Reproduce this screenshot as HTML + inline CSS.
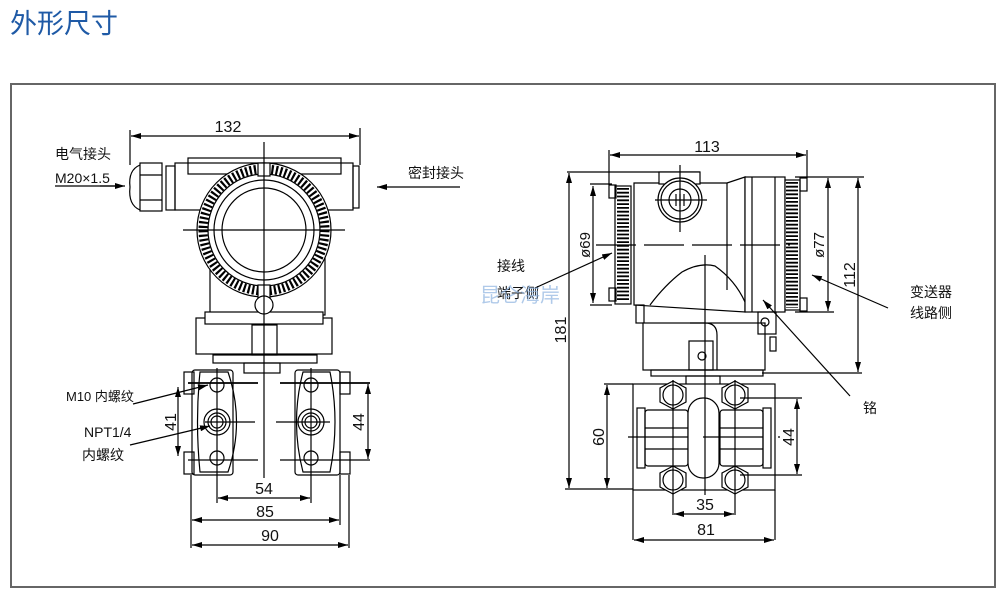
<!DOCTYPE html>
<html><head><meta charset="utf-8"><style>
html,body{margin:0;padding:0;background:#fff;width:1002px;height:593px;overflow:hidden}
svg{display:block}
text{font-family:"Liberation Sans","Noto Sans CJK SC",sans-serif;fill:#111}
</style></head><body>
<svg width="1002" height="593" viewBox="0 0 1002 593" xmlns="http://www.w3.org/2000/svg">
<defs>
<marker id="a" viewBox="0 0 10 6" refX="10" refY="3" markerWidth="10" markerHeight="6" orient="auto-start-reverse" markerUnits="userSpaceOnUse"><path d="M0,0 L10,3 L0,6z" fill="#000"/></marker>
</defs>
<text x="10" y="33" font-size="27" style="fill:#1f5aa6">外形尺寸</text>
<rect x="11" y="84" width="984" height="503" fill="none" stroke="#666" stroke-width="2"/>

<g stroke="#000" fill="none" stroke-width="1.2">
<!-- LEFT VIEW -->
<line x1="130" y1="130" x2="130" y2="165"/><line x1="360" y1="128" x2="360" y2="165"/>
<line x1="131" y1="136" x2="359" y2="136" marker-start="url(#a)" marker-end="url(#a)"/>
<rect x="188" y="158" width="153" height="16" fill="#fff"/>
<rect x="175" y="163" width="178" height="47"/>
<rect x="353" y="166" width="6" height="42"/>
<rect x="166" y="166" width="9" height="44"/>
<rect x="140" y="163" width="22" height="48"/>
<path d="M140,165 Q128,170 130,187 Q128,205 140,210"/>
<line x1="140" y1="175" x2="162" y2="175"/><line x1="140" y1="200" x2="162" y2="200"/>
<rect x="210" y="255" width="115" height="60" fill="#fff"/>
<rect x="196" y="318" width="136" height="36" fill="#fff"/>
<rect x="205" y="312" width="118" height="12" fill="#fff"/>
<rect x="252" y="325" width="25" height="30"/>
<rect x="213" y="355" width="104" height="8"/>
<rect x="244" y="363" width="36" height="10"/>
<circle cx="264" cy="230" r="67" fill="#fff"/>
<circle cx="264" cy="230" r="61" stroke-width="9" stroke-dasharray="2.2 2.2"/>
<circle cx="264" cy="230" r="56"/>
<circle cx="264" cy="230" r="50"/>
<circle cx="264" cy="230" r="42"/>
<rect x="258" y="163" width="12" height="13" fill="#fff"/>
<rect x="258" y="285" width="12" height="14" fill="#fff"/>
<circle cx="264" cy="305" r="9" fill="#fff"/>
<rect x="192" y="370" width="41" height="105" rx="3" fill="#fff"/>
<rect x="295" y="370" width="45" height="105" rx="3" fill="#fff"/>
<path d="M200,372 Q195,422 200,472 L228,472 Q245,422 228,372z"/>
<path d="M303,372 Q290,422 303,472 L330,472 Q340,422 330,372z"/>
<rect x="184" y="372" width="10" height="22"/><rect x="184" y="452" width="10" height="22"/>
<rect x="340" y="372" width="10" height="22"/><rect x="340" y="452" width="10" height="22"/>
<circle cx="217" cy="385" r="7"/><circle cx="217" cy="458" r="7"/>
<circle cx="311" cy="385" r="7"/><circle cx="311" cy="458" r="7"/>
<circle cx="217" cy="422" r="13"/><circle cx="217" cy="422" r="9"/><circle cx="217" cy="422" r="6"/>
<circle cx="311" cy="422" r="13"/><circle cx="311" cy="422" r="9"/><circle cx="311" cy="422" r="6"/>
<line x1="188" y1="383" x2="258" y2="383" stroke-width="1.8"/><line x1="280" y1="383" x2="370" y2="383" stroke-width="1.8"/>
<line x1="188" y1="460" x2="258" y2="460"/><line x1="280" y1="460" x2="370" y2="460"/>
<line x1="264" y1="142" x2="264" y2="478"/>
<line x1="183" y1="230" x2="345" y2="230"/>
<line x1="205" y1="422" x2="255" y2="422"/><line x1="276" y1="422" x2="330" y2="422"/>
<line x1="217" y1="368" x2="217" y2="503"/><line x1="311" y1="368" x2="311" y2="503"/>
<line x1="191" y1="475" x2="191" y2="548"/><line x1="340" y1="475" x2="340" y2="525"/><line x1="349" y1="475" x2="349" y2="548"/>
<line x1="218" y1="498" x2="310" y2="498" marker-start="url(#a)" marker-end="url(#a)"/>
<line x1="192" y1="520" x2="339" y2="520" marker-start="url(#a)" marker-end="url(#a)"/>
<line x1="192" y1="545" x2="348" y2="545" marker-start="url(#a)" marker-end="url(#a)"/>
<line x1="178" y1="387" x2="178" y2="456" marker-start="url(#a)" marker-end="url(#a)"/>
<line x1="368" y1="384" x2="368" y2="459" marker-start="url(#a)" marker-end="url(#a)"/>
<line x1="55" y1="186" x2="122" y2="186"/>
<line x1="100" y1="186" x2="125" y2="186" marker-end="url(#a)"/>
<line x1="460" y1="187" x2="377" y2="187" marker-end="url(#a)"/>
<line x1="133" y1="404" x2="208" y2="385" marker-end="url(#a)"/>
<line x1="130" y1="445" x2="210" y2="426" marker-end="url(#a)"/>

<!-- RIGHT VIEW -->
<line x1="609" y1="150" x2="609" y2="185"/><line x1="807" y1="150" x2="807" y2="178"/>
<line x1="610" y1="155" x2="806" y2="155" marker-start="url(#a)" marker-end="url(#a)"/>
<line x1="567" y1="172" x2="700" y2="172"/>
<line x1="569" y1="173" x2="569" y2="488" marker-start="url(#a)" marker-end="url(#a)"/>
<line x1="565" y1="489" x2="633" y2="489"/>
<line x1="590" y1="184" x2="612" y2="184"/><line x1="590" y1="305" x2="612" y2="305"/>
<line x1="593" y1="186" x2="593" y2="303" marker-start="url(#a)" marker-end="url(#a)"/>
<line x1="795" y1="177" x2="864" y2="177"/><line x1="795" y1="312" x2="834" y2="312"/>
<line x1="828" y1="178" x2="828" y2="311" marker-start="url(#a)" marker-end="url(#a)"/>
<line x1="858" y1="178" x2="858" y2="372" marker-start="url(#a)" marker-end="url(#a)"/>
<line x1="762" y1="373" x2="862" y2="373"/>
<!-- body -->
<path d="M634,183 L727,183 L745,177 L745,312 L634,305z" fill="#fff"/>
<line x1="727" y1="183" x2="727" y2="290"/>
<path d="M650,305 Q665,285 682,272 Q700,262 715,266 Q735,280 745,302"/>
<rect x="745" y="177" width="40" height="135" fill="#fff"/>
<line x1="752" y1="177" x2="752" y2="312"/><line x1="775" y1="177" x2="775" y2="312"/>
<rect x="785" y="180" width="15" height="130" fill="#fff"/>
<line x1="792" y1="182" x2="792" y2="308" stroke-width="12" stroke-dasharray="1.8 2" />
<rect x="615" y="186" width="16" height="118" fill="#fff"/>
<line x1="623" y1="188" x2="623" y2="302" stroke-width="12" stroke-dasharray="1.8 2"/>
<rect x="609" y="185" width="7" height="13"/><rect x="609" y="288" width="7" height="13"/>
<rect x="800" y="178" width="7" height="13"/><rect x="800" y="298" width="7" height="13"/>
<rect x="659" y="172" width="41" height="12" fill="#fff"/>
<circle cx="680" cy="200" r="22" fill="#fff"/><circle cx="680" cy="200" r="19"/><circle cx="680" cy="200" r="11"/>
<line x1="676" y1="194" x2="676" y2="206"/><line x1="680" y1="194" x2="680" y2="206"/><line x1="684" y1="194" x2="684" y2="206"/>
<rect x="636" y="305" width="8" height="18"/>
<rect x="643" y="323" width="122" height="47" fill="#fff"/>
<path d="M690,323 L705,323 Q717,323 717,335 L717,370"/>
<rect x="689" y="341" width="24" height="29"/><circle cx="702" cy="356" r="4"/>
<rect x="758" y="312" width="18" height="22"/><circle cx="765" cy="322" r="4"/>
<rect x="770" y="337" width="6" height="14"/>
<rect x="651" y="370" width="112" height="6"/>
<rect x="686" y="376" width="34" height="10"/>
<!-- flange -->
<rect x="633" y="384" width="142" height="106" fill="#fff"/>
<rect x="637" y="408" width="8" height="60"/><rect x="763" y="408" width="8" height="60"/>
<rect x="645" y="410" width="43" height="56" rx="3"/><rect x="720" y="410" width="43" height="56" rx="3"/>
<line x1="645" y1="428" x2="688" y2="428"/><line x1="645" y1="449" x2="688" y2="449"/>
<line x1="720" y1="428" x2="763" y2="428"/><line x1="720" y1="449" x2="763" y2="449"/>
<rect x="688" y="398" width="31" height="80" rx="15" fill="#fff"/>
<polygon points="673,381 686,388 686,402 673,409 660,402 660,388" fill="#fff"/>
<polygon points="735,381 748,388 748,402 735,409 722,402 722,388" fill="#fff"/>
<polygon points="673,466 686,473 686,487 673,494 660,487 660,473" fill="#fff"/>
<polygon points="735,466 748,473 748,487 735,494 722,487 722,473" fill="#fff"/>
<circle cx="673" cy="395" r="10"/><circle cx="735" cy="395" r="10"/>
<circle cx="673" cy="480" r="10"/><circle cx="735" cy="480" r="10"/>
<line x1="705" y1="255" x2="705" y2="495"/>
<line x1="680" y1="165" x2="680" y2="232"/><line x1="655" y1="200" x2="707" y2="200"/>
<line x1="596" y1="245" x2="790" y2="245" stroke-dasharray="40 8"/>
<line x1="628" y1="437" x2="780" y2="437" stroke-dasharray="60 15"/>
<line x1="673" y1="380" x2="673" y2="515"/><line x1="735" y1="380" x2="735" y2="515"/>
<line x1="633" y1="490" x2="633" y2="540"/><line x1="775" y1="490" x2="775" y2="540"/>
<line x1="674" y1="514" x2="734" y2="514" marker-start="url(#a)" marker-end="url(#a)"/>
<line x1="634" y1="540" x2="774" y2="540" marker-start="url(#a)" marker-end="url(#a)"/>
<line x1="604" y1="384" x2="633" y2="384"/>
<line x1="607" y1="385" x2="607" y2="488" marker-start="url(#a)" marker-end="url(#a)"/>
<line x1="740" y1="398" x2="802" y2="398"/><line x1="740" y1="475" x2="802" y2="475"/>
<line x1="797" y1="399" x2="797" y2="474" marker-start="url(#a)" marker-end="url(#a)"/>
<line x1="535" y1="288" x2="612" y2="253" marker-end="url(#a)"/>
<line x1="888" y1="308" x2="812" y2="275" marker-end="url(#a)"/>
<line x1="850" y1="396" x2="763" y2="300" marker-end="url(#a)"/>
</g>

<g font-size="14">
<text x="228" y="132" font-size="16" text-anchor="middle">132</text>
<text x="55" y="159">电气接头</text>
<text x="55" y="183">M20×1.5</text>
<text x="408" y="178">密封接头</text>
<text x="66" y="401" font-size="13">M10 内螺纹</text>
<text x="84" y="437">NPT1/4</text>
<text x="82" y="460">内螺纹</text>
<text x="264" y="494" font-size="16" text-anchor="middle">54</text>
<text x="265" y="517" font-size="16" text-anchor="middle">85</text>
<text x="270" y="541" font-size="16" text-anchor="middle">90</text>
<text transform="translate(176,422) rotate(-90)" font-size="16" text-anchor="middle">41</text>
<text transform="translate(364,422) rotate(-90)" font-size="16" text-anchor="middle">44</text>
<text x="707" y="152" font-size="16" text-anchor="middle">113</text>
<text transform="translate(566,330) rotate(-90)" font-size="16" text-anchor="middle">181</text>
<text transform="translate(590,245) rotate(-90)" font-size="15" text-anchor="middle">ø69</text>
<text transform="translate(824,245) rotate(-90)" font-size="15" text-anchor="middle">ø77</text>
<text transform="translate(855,275) rotate(-90)" font-size="16" text-anchor="middle">112</text>
<text transform="translate(604,437) rotate(-90)" font-size="16" text-anchor="middle">60</text>
<text transform="translate(794,437) rotate(-90)" font-size="16" text-anchor="middle">44</text>
<text x="705" y="510" font-size="16" text-anchor="middle">35</text>
<text x="706" y="535" font-size="16" text-anchor="middle">81</text>
<text x="497" y="271">接线</text>
<text x="497" y="298">端子侧</text>
<text x="910" y="297">变送器</text>
<text x="910" y="318">线路侧</text>
<text x="863" y="413">铭</text>
<text x="480" y="302" font-size="20" style="fill:#8fb4e0;opacity:.7">昆仑海岸</text>
</g>
</svg>
</body></html>
